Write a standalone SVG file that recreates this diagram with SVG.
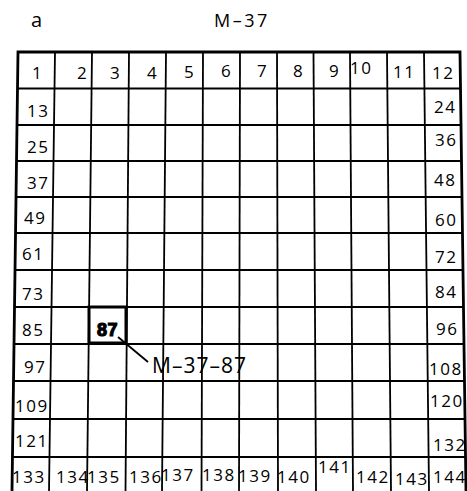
<svg xmlns="http://www.w3.org/2000/svg" width="467" height="491" viewBox="0 0 467 491">
<style>
  .bg{fill:#fff}
  .inner{stroke:#000;stroke-width:1.8;fill:none}
  .outer{stroke:#000;stroke-width:2.8;fill:none;stroke-linecap:square}
  .lbl{font-family:"Open Sans","DejaVu Sans",sans-serif;font-size:17px;letter-spacing:1.5px;fill:#000}
  .title{font-family:"Open Sans","DejaVu Sans",sans-serif;fill:#000}
  .bold{font-family:"Liberation Sans","DejaVu Sans",sans-serif;font-weight:bold;font-size:18px;fill:#000;stroke:#000;stroke-width:1.2;letter-spacing:0.5px}
  .hl{stroke:#000;stroke-width:3;fill:none}
  .lead{stroke:#000;stroke-width:1.8;fill:none}
</style>
<rect class="bg" x="0" y="0" width="467" height="491"/>
<g id="titles">
  <text class="title" x="31" y="27" font-size="20">a</text>
  <text class="title" x="214" y="27" font-size="18" letter-spacing="2.5">M–37</text>
</g>
<g id="grid">
  <g class="inner">
    <line x1="55" y1="52" x2="49" y2="491"/>
    <line x1="92" y1="52" x2="87" y2="491"/>
    <line x1="129" y1="52" x2="125.5" y2="491"/>
    <line x1="166" y1="52" x2="162" y2="491"/>
    <line x1="203" y1="52" x2="201.5" y2="491"/>
    <line x1="240" y1="52" x2="239" y2="491"/>
    <line x1="277" y1="52" x2="278" y2="491"/>
    <line x1="313.5" y1="52" x2="316" y2="491"/>
    <line x1="350" y1="52" x2="353" y2="491"/>
    <line x1="387" y1="52" x2="391" y2="491"/>
    <line x1="424" y1="52" x2="429" y2="491"/>
    <line x1="17.5" y1="88.5" x2="460.5" y2="88.5"/>
    <line x1="17" y1="125" x2="461" y2="125"/>
    <line x1="16.5" y1="161" x2="461.5" y2="161"/>
    <line x1="16" y1="197" x2="462" y2="197"/>
    <line x1="15.5" y1="233" x2="462.5" y2="233"/>
    <line x1="15" y1="270" x2="463" y2="270"/>
    <line x1="14.5" y1="307" x2="463.5" y2="307"/>
    <line x1="14" y1="344" x2="464" y2="344"/>
    <line x1="13.5" y1="381" x2="464.5" y2="381"/>
    <line x1="13" y1="419" x2="465" y2="419"/>
    <line x1="12.5" y1="457" x2="465.5" y2="457"/>
  </g>
  <polyline class="outer" points="12,491 18,52 460,52 466,491"/>
</g>
<g id="labels" class="lbl">
  <text x="32" y="79">1</text>
  <text x="77" y="79">2</text>
  <text x="110" y="79">3</text>
  <text x="147" y="79">4</text>
  <text x="184" y="78">5</text>
  <text x="221" y="77">6</text>
  <text x="257" y="77">7</text>
  <text x="293" y="77">8</text>
  <text x="329" y="77">9</text>
  <text x="350" y="74">10</text>
  <text x="393" y="78">11</text>
  <text x="432" y="79">12</text>
  <text x="27" y="117">13</text>
  <text x="434" y="113">24</text>
  <text x="27" y="153">25</text>
  <text x="435" y="146">36</text>
  <text x="27" y="189">37</text>
  <text x="434" y="186">48</text>
  <text x="24" y="224">49</text>
  <text x="435" y="226">60</text>
  <text x="22" y="260">61</text>
  <text x="435" y="263">72</text>
  <text x="22" y="300">73</text>
  <text x="435" y="298">84</text>
  <text x="22" y="336">85</text>
  <text x="436" y="335">96</text>
  <text x="24" y="373">97</text>
  <text x="429" y="375">108</text>
  <text x="15" y="412">109</text>
  <text x="430" y="407">120</text>
  <text x="15" y="447">121</text>
  <text x="433" y="451">132</text>
  <text x="12" y="483">133</text>
  <text x="56" y="483">134</text>
  <text x="87" y="483">135</text>
  <text x="129" y="483">136</text>
  <text x="161" y="481">137</text>
  <text x="202" y="481">138</text>
  <text x="238" y="482">139</text>
  <text x="277" y="483">140</text>
  <text x="318" y="473">141</text>
  <text x="356" y="483">142</text>
  <text x="395" y="485">143</text>
  <text x="433" y="483">144</text>
</g>
<g id="sheet-87">
  <rect class="hl" x="89" y="307" width="37" height="36"/>
  <text class="bold" x="97" y="336">87</text>
</g>
<g id="connectors">
  <line class="lead" x1="118" y1="337" x2="148" y2="362"/>
</g>
<g id="label-M-37-87">
  <text class="title" x="152" y="373" font-size="21" letter-spacing="1">M–37–87</text>
</g>
</svg>
